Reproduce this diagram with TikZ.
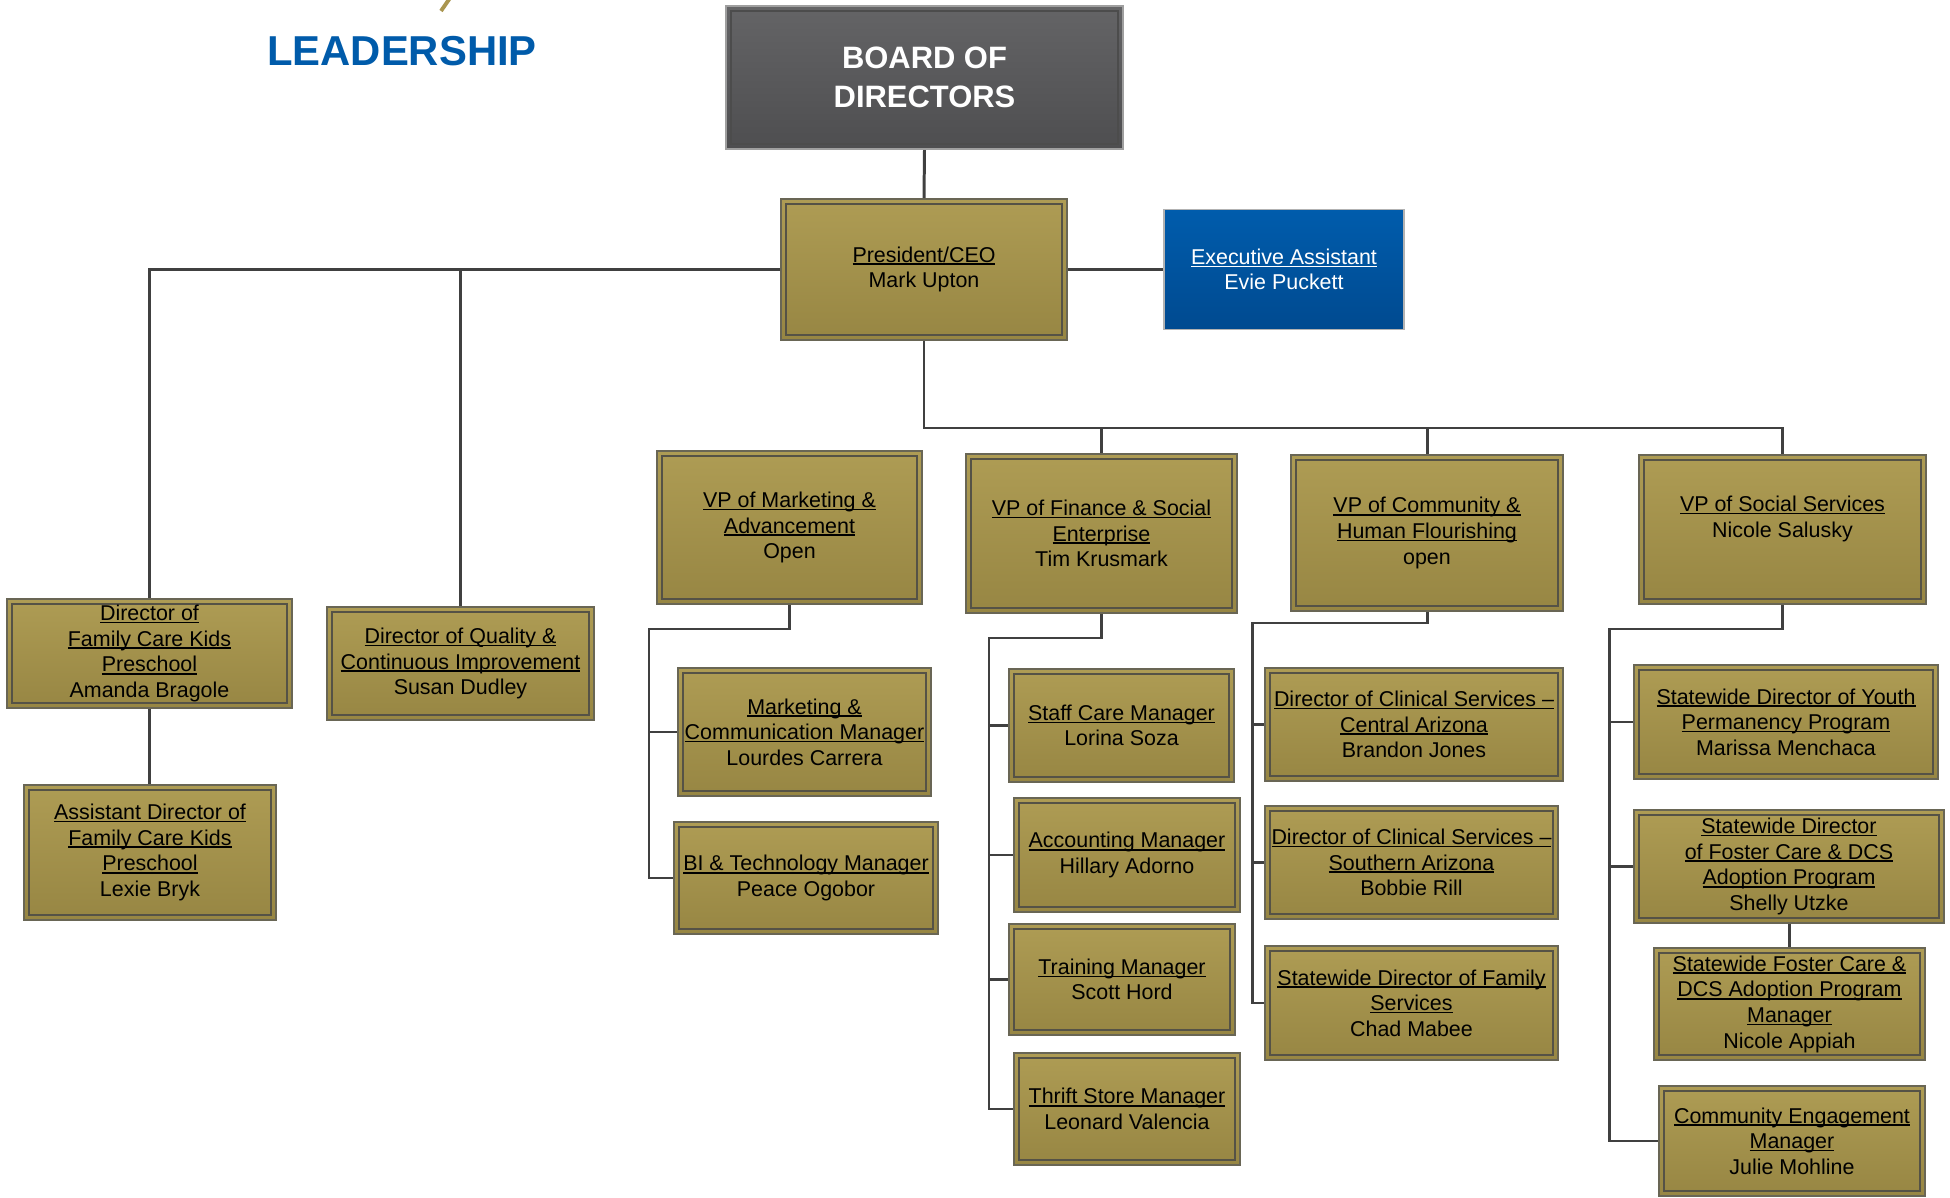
\documentclass[tikz,border=0pt]{standalone}
\usepackage{fontspec}
\setmainfont{Liberation Sans}

\definecolor{goldtop}{RGB}{174,156,84}
\definecolor{goldbot}{RGB}{151,134,67}
\definecolor{goldedge}{RGB}{105,102,85}
\definecolor{goldinner}{RGB}{85,82,70}
\definecolor{boardtop}{RGB}{100,100,102}
\definecolor{boardbot}{RGB}{78,78,80}
\definecolor{assisttop}{RGB}{0,92,172}
\definecolor{assistbot}{RGB}{0,74,144}
\definecolor{leadblue}{RGB}{0,91,170}
\definecolor{logogold}{RGB}{170,150,80}
\definecolor{linkgray}{RGB}{64,64,64}

\newcommand\ulin[1]{\setbox0\hbox{#1}\rlap{\rule[-0.8pt]{\wd0}{0.45pt}}\box0}

\begin{document}
\begin{tikzpicture}

    \tikzset{
      orgbox/.style={
        draw=goldedge,
        line width=0.45pt,
        top color=goldtop,
        bottom color=goldbot,
        inner sep=0pt,
        align=center,
        text=black,
        font=\fontsize{6.1}{7.3}\selectfont,
        path picture={\draw[goldinner, line width=0.4pt] ([shift={(0.05,0.05)}]path picture bounding box.south west) rectangle ([shift={(-0.05,-0.05)}]path picture bounding box.north east);},
      },
      boardbox/.style={
        draw=gray!75,
        line width=0.7pt,
        top color=boardtop,
        bottom color=boardbot,
        inner sep=0pt,
        align=center,
        text=white,
        font=\fontsize{8.8}{10.9}\selectfont\bfseries,
        path picture={\draw[black!70, line width=0.5pt] ([shift={(0.05,0.05)}]path picture bounding box.south west) rectangle ([shift={(-0.05,-0.05)}]path picture bounding box.north east);},
      },
      assistbox/.style={
        draw=gray!60,
        line width=0.4pt,
        top color=assisttop,
        bottom color=assistbot,
        inner sep=0pt,
        align=center,
        text=white,
        font=\fontsize{6.1}{7.3}\selectfont,
      },
      link/.style={
        draw=linkgray,
        line width=0.85pt,
      },
    }
    \useasboundingbox (0,0) rectangle (19.5,-11.98);

	\draw[logogold, line width=1.1pt] (4.50,0.02) -- (4.41,-0.11);
	\node[text=leadblue, font=\fontsize{11.9}{14}\selectfont\bfseries] (heading) at (4.02,-0.51) {LEADERSHIP};

	\node[boardbox, minimum width=3.97cm, minimum height=1.43cm] (board) at (9.245,-0.775) {BOARD OF\\DIRECTORS};
	\node[orgbox, minimum width=2.86cm, minimum height=1.41cm] (pres) at (9.24,-2.695) {\ulin{President/CEO}\\Mark Upton};
	\node[assistbox, minimum width=2.40cm, minimum height=1.20cm] (exec) at (12.84,-2.695) {\ulin{Executive Assistant}\\Evie Puckett};

	\node[orgbox, minimum width=2.85cm, minimum height=1.09cm] (dirfck) at (1.495,-6.535) {\ulin{Director of}\\\ulin{Family Care Kids}\\\ulin{Preschool}\\Amanda Bragole};
	\node[orgbox, minimum width=2.52cm, minimum height=1.35cm] (asstdir) at (1.50,-8.525) {\ulin{Assistant Director of}\\\ulin{Family Care Kids}\\\ulin{Preschool}\\Lexie Bryk};
	\node[orgbox, minimum width=2.67cm, minimum height=1.13cm] (qual) at (4.605,-6.635) {\ulin{Director of Quality \&}\\\ulin{Continuous Improvement}\\Susan Dudley};

	\node[orgbox, minimum width=2.65cm, minimum height=1.53cm] (vpmkt) at (7.895,-5.275) {\ulin{VP of Marketing \&}\\\ulin{Advancement}\\Open};
	\node[orgbox, minimum width=2.71cm, minimum height=1.59cm] (vpfin) at (11.015,-5.335) {\ulin{VP of Finance \& Social}\\\ulin{Enterprise}\\Tim Krusmark};
	\node[orgbox, minimum width=2.72cm, minimum height=1.56cm] (vpcom) at (14.27,-5.33) {\ulin{VP of Community \&}\\\ulin{Human Flourishing}\\open};
	\node[orgbox, minimum width=2.87cm, minimum height=1.49cm] (vpsoc) at (17.825,-5.295) {\ulin{VP of Social Services}\\Nicole Salusky\\~};

	\node[orgbox, minimum width=2.53cm, minimum height=1.28cm] (mktcomm) at (8.045,-7.32) {\ulin{Marketing \&}\\\ulin{Communication Manager}\\Lourdes Carrera};
	\node[orgbox, minimum width=2.64cm, minimum height=1.12cm] (bitech) at (8.06,-8.78) {\ulin{BI \& Technology Manager}\\Peace Ogobor};

	\node[orgbox, minimum width=2.25cm, minimum height=1.13cm] (staff) at (11.215,-7.255) {\ulin{Staff Care Manager}\\Lorina Soza};
	\node[orgbox, minimum width=2.26cm, minimum height=1.14cm] (acct) at (11.27,-8.55) {\ulin{Accounting Manager}\\Hillary Adorno};
	\node[orgbox, minimum width=2.26cm, minimum height=1.11cm] (training) at (11.22,-9.795) {\ulin{Training Manager}\\Scott Hord};
	\node[orgbox, minimum width=2.26cm, minimum height=1.12cm] (thrift) at (11.27,-11.09) {\ulin{Thrift Store Manager}\\Leonard Valencia};

	\node[orgbox, minimum width=2.98cm, minimum height=1.13cm] (clincen) at (14.14,-7.245) {\ulin{Director of Clinical Services –}\\\ulin{Central Arizona}\\Brandon Jones};
	\node[orgbox, minimum width=2.93cm, minimum height=1.13cm] (clinsou) at (14.115,-8.625) {\ulin{Director of Clinical Services –}\\\ulin{Southern Arizona}\\Bobbie Rill};
	\node[orgbox, minimum width=2.93cm, minimum height=1.14cm] (famserv) at (14.115,-10.03) {\ulin{Statewide Director of Family}\\\ulin{Services}\\Chad Mabee};

	\node[orgbox, minimum width=3.04cm, minimum height=1.14cm] (youth) at (17.86,-7.22) {\ulin{Statewide Director of Youth}\\\ulin{Permanency Program}\\Marissa Menchaca};
	\node[orgbox, minimum width=3.10cm, minimum height=1.13cm] (fosterdir) at (17.89,-8.665) {\ulin{Statewide Director}\\\ulin{of Foster Care \& DCS}\\\ulin{Adoption Program}\\Shelly Utzke};
	\node[orgbox, minimum width=2.71cm, minimum height=1.12cm] (fostermgr) at (17.895,-10.04) {\ulin{Statewide Foster Care \&}\\\ulin{DCS Adoption Program}\\\ulin{Manager}\\Nicole Appiah};
	\node[orgbox, minimum width=2.66cm, minimum height=1.10cm] (commeng) at (17.92,-11.41) {\ulin{Community Engagement}\\\ulin{Manager}\\Julie Mohline};

	\coordinate (vpbus) at (9.24,-4.28);
	\coordinate (mktspine) at (6.49,-6.29);
	\coordinate (finspine) at (9.89,-6.38);
	\coordinate (comspine) at (12.52,-6.23);
	\coordinate (socspine) at (16.09,-6.29);

	\draw[link] (board.south) -- (pres.north);
	\draw[link] (pres.east) -- (exec.west);
	\draw[link] (pres.west) -| (dirfck.north);
	\draw[link] (pres.west) -| (qual.north);
	\draw[link] (dirfck.south) -- (dirfck.south |- asstdir.north);

	\draw[link] (pres.south) -- (vpbus) -| (vpsoc.north);
	\draw[link] (vpbus) -| (vpfin.north);
	\draw[link] (vpbus) -| (vpcom.north);

	\draw[link] (vpmkt.south) |- (mktspine) |- (bitech.west);
	\draw[link] (mktspine) |- (mktcomm.west);

	\draw[link] (vpfin.south) |- (finspine) |- (thrift.west);
	\draw[link] (finspine) |- (staff.west);
	\draw[link] (finspine) |- (acct.west);
	\draw[link] (finspine) |- (training.west);

	\draw[link] (vpcom.south) |- (comspine) |- (famserv.west);
	\draw[link] (comspine) |- (clincen.west);
	\draw[link] (comspine) |- (clinsou.west);

	\draw[link] (vpsoc.south) |- (socspine) |- (commeng.west);
	\draw[link] (socspine) |- (youth.west);
	\draw[link] (socspine) |- (fosterdir.west);
	\draw[link] (fosterdir.south) -- (fosterdir.south |- fostermgr.north);

\end{tikzpicture}
\end{document}
